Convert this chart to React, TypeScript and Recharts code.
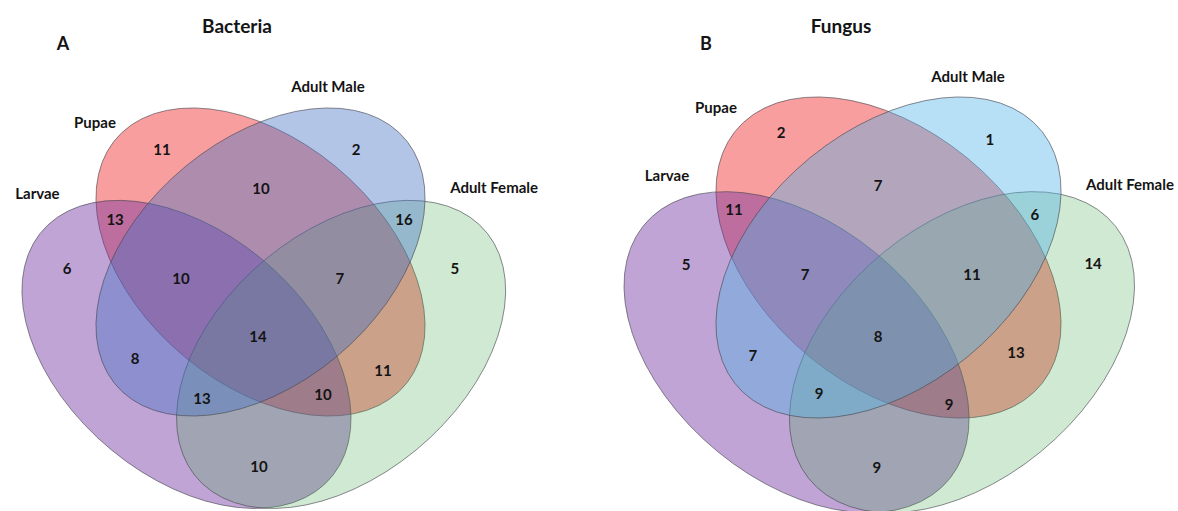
import { Scatter, ScatterChart, XAxis, YAxis } from 'recharts';

// sets, in the order used by the region keys below
const setKeys = ['L', 'P', 'M', 'F'];
const setNames = ['Larvae', 'Pupae', 'Adult Male', 'Adult Female'];

// every region of the 4-set diagram
const regions = ['L', 'P', 'M', 'F', 'LP', 'PM', 'MF', 'LM', 'LF', 'PF', 'LPM', 'PMF', 'LMF', 'LPF', 'LPMF'];
const bacteriaCounts = [6, 11, 2, 5, 13, 10, 16, 8, 10, 11, 10, 7, 13, 10, 14];
const fungusCounts = [5, 2, 1, 14, 11, 7, 6, 7, 9, 13, 7, 11, 9, 9, 8];

// ellipse shape, in units of its horizontal half-extent
const SEMI_MAJOR = 1.19;
const SEMI_MINOR = 0.765;
const rotations = [45, 45, -45, -45];
const opacities = [0.44, 0.38, 0.41, 0.26];
const drawOrder = [1, 0, 3, 2]; // red, purple, green, blue on top

const FONT = 'Lato, "Open Sans", sans-serif';

type Panel = {
  left: number;
  width: number;
  height: number;
  ox: number;
  oy: number;
  sx: number;
  sy: number;
  title: string;
  letter: string;
  titleX: number;
  letterX: number;
  counts: number[];
  colors: string[];
  centers: [number, number][];
  nameSpots: [number, number][];
  countSpots: [number, number][];
};

const panels: Panel[] = [
  {
    left: 0,
    width: 589,
    height: 511,
    ox: 260.5,
    oy: 262,
    sx: 164.5,
    sy: 154,
    title: 'Bacteria',
    letter: 'A',
    titleX: 237,
    letterX: 63,
    counts: bacteriaCounts,
    colors: ['#7030a0', '#f00000', '#4472c4', '#4baa50'],
    centers: [[-0.45, -0.6], [0, 0], [0, 0], [0.49, -0.6]],
    nameSpots: [[-1.356, 0.448], [-1.006, 0.909], [0.41, 1.143], [1.42, 0.487]],
    countSpots: [
      [-1.176, -0.039], [-0.599, 0.734], [0.581, 0.734], [1.182, -0.039],
      [-0.884, 0.279], [0.003, 0.481], [0.872, 0.279], [-0.763, -0.623],
      [-0.009, -1.325], [0.745, -0.701], [-0.483, -0.104], [0.483, -0.104],
      [-0.356, -0.883], [0.38, -0.857], [-0.015, -0.481],
    ],
  },
  {
    left: 589,
    width: 589,
    height: 511,
    ox: 299.5,
    oy: 257.5,
    sx: 172.5,
    sy: 160.5,
    title: 'Fungus',
    letter: 'B',
    titleX: 841,
    letterX: 706,
    counts: fungusCounts,
    colors: ['#7030a0', '#f00000', '#4fb1e7', '#4baa50'],
    centers: [[-0.533, -0.59], [0, 0], [0, 0], [0.426, -0.59]],
    nameSpots: [[-1.284, 0.514], [-1.0, 0.938], [0.461, 1.131], [1.4, 0.458]],
    countSpots: [
      [-1.174, -0.04], [-0.623, 0.782], [0.588, 0.738], [1.186, -0.034],
      [-0.896, 0.302], [-0.061, 0.452], [0.849, 0.271], [-0.786, -0.607],
      [-0.067, -1.305], [0.739, -0.589], [-0.484, -0.103], [0.484, -0.103],
      [-0.403, -0.844], [0.351, -0.913], [-0.061, -0.489],
    ],
  },
];

function VennPanel({ panel }: { panel: Panel }) {
  const xDomain = [-panel.ox / panel.sx, (panel.width - panel.ox) / panel.sx];
  const yDomain = [-(panel.height - panel.oy) / panel.sy, panel.oy / panel.sy];

  const sets = drawOrder.map((i) => ({
    x: panel.centers[i][0],
    y: panel.centers[i][1],
    key: setKeys[i],
    color: panel.colors[i],
    opacity: opacities[i],
    rot: rotations[i],
  }));
  const names = setNames.map((name, i) => ({ x: panel.nameSpots[i][0], y: panel.nameSpots[i][1], name }));
  const counts = regions.map((region, i) => ({
    x: panel.countSpots[i][0],
    y: panel.countSpots[i][1],
    region,
    value: panel.counts[i],
  }));

  const renderEllipse = (props: any) => (
    <ellipse
      cx={0}
      cy={0}
      rx={SEMI_MAJOR}
      ry={SEMI_MINOR}
      transform={`translate(${props.cx} ${props.cy}) scale(${panel.sx} ${panel.sy}) rotate(${props.payload.rot})`}
      fill={props.payload.color}
      fillOpacity={props.payload.opacity}
      stroke="#464650"
      strokeOpacity={0.7}
      strokeWidth={0.9}
      vectorEffect="non-scaling-stroke"
    />
  );

  const renderText = (key: string, size: number) => (props: any) => (
    <text
      x={props.cx}
      y={props.cy}
      textAnchor="middle"
      dominantBaseline="central"
      fontFamily={FONT}
      fontWeight={700}
      fontSize={size}
      fill="#141414"
    >
      {props.payload[key]}
    </text>
  );

  return (
    <div style={{ position: 'absolute', left: panel.left, top: 0 }}>
      <ScatterChart width={panel.width} height={panel.height} margin={{ top: 0, right: 0, bottom: 0, left: 0 }}>
        <XAxis type="number" dataKey="x" domain={xDomain} allowDataOverflow hide />
        <YAxis type="number" dataKey="y" domain={yDomain} allowDataOverflow hide />
        <Scatter data={sets} shape={renderEllipse} isAnimationActive={false} />
        <Scatter data={names} shape={renderText('name', 15)} isAnimationActive={false} />
        <Scatter data={counts} shape={renderText('value', 15)} isAnimationActive={false} />
      </ScatterChart>
      <div
        style={{
          position: 'absolute',
          left: panel.titleX - panel.left - 80,
          top: 13,
          width: 160,
          lineHeight: '26px',
          textAlign: 'center',
          fontFamily: FONT,
          fontWeight: 700,
          fontSize: 19,
          color: '#141414',
        }}
      >
        {panel.title}
      </div>
      <div
        style={{
          position: 'absolute',
          left: panel.letterX - panel.left - 20,
          top: 30,
          width: 40,
          lineHeight: '26px',
          textAlign: 'center',
          fontFamily: FONT,
          fontWeight: 700,
          fontSize: 18,
          color: '#141414',
        }}
      >
        {panel.letter}
      </div>
    </div>
  );
}

export default function App() {
  return (
    <div style={{ position: 'absolute', left: 0, top: 0, width: 1178, height: 511, background: '#fff', overflow: 'hidden' }}>
      {panels.map((p) => (
        <VennPanel key={p.title} panel={p} />
      ))}
    </div>
  );
}
